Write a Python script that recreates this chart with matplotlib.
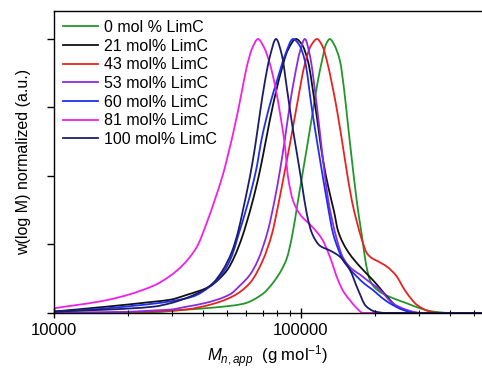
import matplotlib
matplotlib.use("Agg")
import numpy as np
import matplotlib.pyplot as plt
from matplotlib.path import Path
from matplotlib.patches import PathPatch
from matplotlib.lines import Line2D
from matplotlib.ticker import FixedLocator, NullFormatter, LogLocator

plt.rcParams["font.family"] = ["Liberation Sans", "DejaVu Sans"]
plt.rcParams["mathtext.fontset"] = "custom"
plt.rcParams["mathtext.rm"] = "Liberation Sans"
plt.rcParams["mathtext.it"] = "Liberation Sans:italic"

# series labels and colours (legend order)
labels = ["0 mol % LimC", "21 mol% LimC", "43 mol% LimC", "53 mol% LimC",
          "60 mol% LimC", "81 mol% LimC", "100 mol% LimC"]
colors = ["#23962a", "#111111", "#e8231f", "#8a2be2",
          "#1f2ff0", "#f020e8", "#1c1c6a"]

# log10(M) positions and normalized w(log M)
logm_0 = [4.000, 4.267, 4.405, 4.538, 4.652, 4.765, 4.846, 4.887, 4.923, 4.943,
          4.964, 4.988, 5.016, 5.049, 5.069, 5.085, 5.101, 5.117, 5.134, 5.158,
          5.174, 5.190, 5.206, 5.223, 5.235, 5.247, 5.263, 5.279, 5.296, 5.328,
          5.372, 5.429, 5.482, 5.534, 5.603, 5.73]
w_0 = [0.0, 0.001, 0.003, 0.012, 0.02, 0.033, 0.07, 0.11, 0.16, 0.2,
       0.28, 0.41, 0.56, 0.74, 0.85, 0.92, 0.98, 1.0, 0.98, 0.92,
       0.82, 0.69, 0.56, 0.43, 0.35, 0.28, 0.18, 0.12, 0.095, 0.072,
       0.054, 0.035, 0.017, 0.005, 0.0, 0.0]

logm_21 = [4.000, 4.215, 4.405, 4.470, 4.538, 4.632, 4.664, 4.704, 4.733, 4.761,
           4.802, 4.834, 4.858, 4.887, 4.919, 4.947, 4.980, 5.004, 5.028, 5.057,
           5.089, 5.113, 5.134, 5.150, 5.186, 5.239, 5.291, 5.320, 5.348, 5.389,
           5.441, 5.482, 5.73]
w_21 = [0.005, 0.023, 0.041, 0.048, 0.066, 0.097, 0.12, 0.16, 0.21, 0.275,
        0.40, 0.52, 0.63, 0.76, 0.88, 0.96, 1.0, 0.98, 0.92, 0.76,
        0.56, 0.45, 0.37, 0.30, 0.23, 0.169, 0.12, 0.09, 0.06, 0.023,
        0.005, 0.0, 0.0]

logm_43 = [4.000, 4.405, 4.538, 4.632, 4.725, 4.794, 4.846, 4.883, 4.907, 4.935,
           4.955, 4.984, 5.016, 5.040, 5.065, 5.089, 5.105, 5.146, 5.178, 5.206,
           5.227, 5.247, 5.267, 5.287, 5.308, 5.348, 5.389, 5.409, 5.429, 5.470,
           5.522, 5.563, 5.73]
w_43 = [0.0, 0.005, 0.013, 0.03, 0.061, 0.11, 0.193, 0.29, 0.39, 0.52,
        0.615, 0.76, 0.91, 0.975, 1.0, 0.97, 0.92, 0.74, 0.56, 0.41,
        0.33, 0.266, 0.218, 0.2, 0.19, 0.169, 0.132, 0.1, 0.072, 0.029,
        0.005, 0.0, 0.0]

logm_53 = [4.000, 4.267, 4.405, 4.470, 4.538, 4.607, 4.713, 4.753, 4.794, 4.826,
           4.866, 4.895, 4.915, 4.935, 4.955, 4.976, 4.996, 5.016, 5.036, 5.065,
           5.089, 5.109, 5.126, 5.146, 5.166, 5.186, 5.211, 5.239, 5.267, 5.320,
           5.372, 5.429, 5.482, 5.73]
w_53 = [0.0, 0.003, 0.009, 0.012, 0.023, 0.035, 0.068, 0.10, 0.14, 0.193,
        0.30, 0.42, 0.52, 0.635, 0.76, 0.87, 0.955, 1.0, 0.94, 0.75,
        0.56, 0.42, 0.34, 0.266, 0.21, 0.18, 0.157, 0.14, 0.12, 0.084,
        0.035, 0.011, 0.0, 0.0]

logm_60 = [4.000, 4.215, 4.405, 4.470, 4.563, 4.632, 4.692, 4.721, 4.745, 4.785,
           4.818, 4.842, 4.874, 4.907, 4.935, 4.968, 4.992, 5.016, 5.045, 5.077,
           5.105, 5.130, 5.150, 5.170, 5.198, 5.227, 5.259, 5.291, 5.328, 5.360,
           5.413, 5.462, 5.73]
w_60 = [0.004, 0.017, 0.034, 0.042, 0.06, 0.097, 0.157, 0.21, 0.28, 0.40,
        0.52, 0.64, 0.76, 0.86, 0.94, 1.0, 0.98, 0.92, 0.74, 0.56,
        0.41, 0.29, 0.235, 0.193, 0.16, 0.132, 0.105, 0.084, 0.055, 0.035,
        0.011, 0.0, 0.0]

logm_81 = [4.000, 4.215, 4.405, 4.470, 4.522, 4.579, 4.619, 4.652, 4.684, 4.700,
           4.741, 4.761, 4.781, 4.802, 4.826, 4.850, 4.874, 4.895, 4.915, 4.935,
           4.947, 4.968, 4.996, 5.045, 5.085, 5.117, 5.150, 5.174, 5.198, 5.223,
           5.251, 5.73]
w_81 = [0.017, 0.047, 0.10, 0.135, 0.175, 0.242, 0.33, 0.415, 0.505, 0.56,
        0.72, 0.81, 0.90, 0.965, 1.0, 0.97, 0.91, 0.83, 0.73, 0.61,
        0.50, 0.41, 0.36, 0.315, 0.27, 0.205, 0.12, 0.075, 0.047, 0.02,
        0.0, 0.0]

logm_100 = [4.000, 4.215, 4.405, 4.470, 4.538, 4.607, 4.644, 4.684, 4.721, 4.745,
            4.765, 4.785, 4.802, 4.818, 4.834, 4.854, 4.874, 4.899, 4.923, 4.943,
            4.964, 4.984, 5.004, 5.024, 5.045, 5.077, 5.117, 5.158, 5.198, 5.231,
            5.263, 5.300, 5.340, 5.73]
w_100 = [0.005, 0.012, 0.023, 0.035, 0.055, 0.084, 0.109, 0.157, 0.225, 0.295,
         0.375, 0.46, 0.54, 0.63, 0.73, 0.845, 0.935, 1.0, 0.94, 0.82,
         0.69, 0.58, 0.47, 0.36, 0.29, 0.245, 0.228, 0.205, 0.157, 0.085,
         0.025, 0.005, 0.0, 0.0]

series = [(logm_0, w_0), (logm_21, w_21), (logm_43, w_43), (logm_53, w_53),
          (logm_60, w_60), (logm_81, w_81), (logm_100, w_100)]


def smooth_path(u, v):
    # monotone cubic (Fritsch-Carlson) drawn as bezier segments through the points
    u = np.asarray(u, float)
    v = np.asarray(v, float)
    h = np.diff(u)
    delta = np.diff(v) / h
    d = np.zeros_like(v)
    d[0], d[-1] = delta[0], delta[-1]
    for i in range(1, len(v) - 1):
        if delta[i - 1] * delta[i] > 0:
            w1 = 2 * h[i] + h[i - 1]
            w2 = h[i] + 2 * h[i - 1]
            d[i] = (w1 + w2) / (w1 / delta[i - 1] + w2 / delta[i])
    verts = [(u[0], v[0])]
    codes = [Path.MOVETO]
    for i in range(len(h)):
        verts += [(u[i] + h[i] / 3, v[i] + d[i] * h[i] / 3),
                  (u[i + 1] - h[i] / 3, v[i + 1] - d[i + 1] * h[i] / 3),
                  (u[i + 1], v[i + 1])]
        codes += [Path.CURVE4] * 3
    verts = np.array(verts)
    verts[:, 0] = 10 ** verts[:, 0]
    return Path(verts, codes)


fig = plt.figure(figsize=(4.82, 3.69), dpi=100)
ax = fig.add_axes([0.112, 0.152, 0.888, 0.818])

handles = []
for (lm, w), lab, c in zip(series, labels, colors):
    ax.add_patch(PathPatch(smooth_path(lm, w), fill=False, edgecolor=c, lw=1.3,
                           joinstyle="round", capstyle="round"))
    handles.append(Line2D([], [], color=c, lw=1.3, label=lab))

ax.set_xscale("log")
ax.set_xlim(1e4, 10 ** 5.733)
ax.set_ylim(0, 1.102)

ax.xaxis.set_major_locator(FixedLocator([1e4, 1e5]))
ax.xaxis.set_minor_locator(LogLocator(base=10, subs=np.arange(2, 10)))
ax.xaxis.set_minor_formatter(NullFormatter())
ax.set_xticklabels(["10000", "100000"])
ax.tick_params(axis="x", which="major", direction="inout", length=7, width=1,
               labelsize=12, pad=4)
ax.tick_params(axis="x", which="minor", direction="inout", length=4, width=0.8)

ax.set_yticks([0, 0.25, 0.5, 0.75, 1.0])
ax.set_yticklabels([])
ax.tick_params(axis="y", direction="out", length=5, width=1)

ax.spines["right"].set_visible(False)
for s in ["left", "bottom", "top"]:
    ax.spines[s].set_linewidth(1)

ax.set_ylabel("w(log M) normalized (a.u.)", fontsize=11.5, labelpad=8)
ax.set_xlabel(r"$M_{n,app}$  (g mol$^{-1}$)", fontsize=12, labelpad=4)

ax.legend(handles=handles, loc="upper left", frameon=False, fontsize=11.5,
          handlelength=2.2, handletextpad=0.4, labelspacing=0.23,
          borderaxespad=0.35, borderpad=0.2)

fig.savefig("out.png", dpi=100)
